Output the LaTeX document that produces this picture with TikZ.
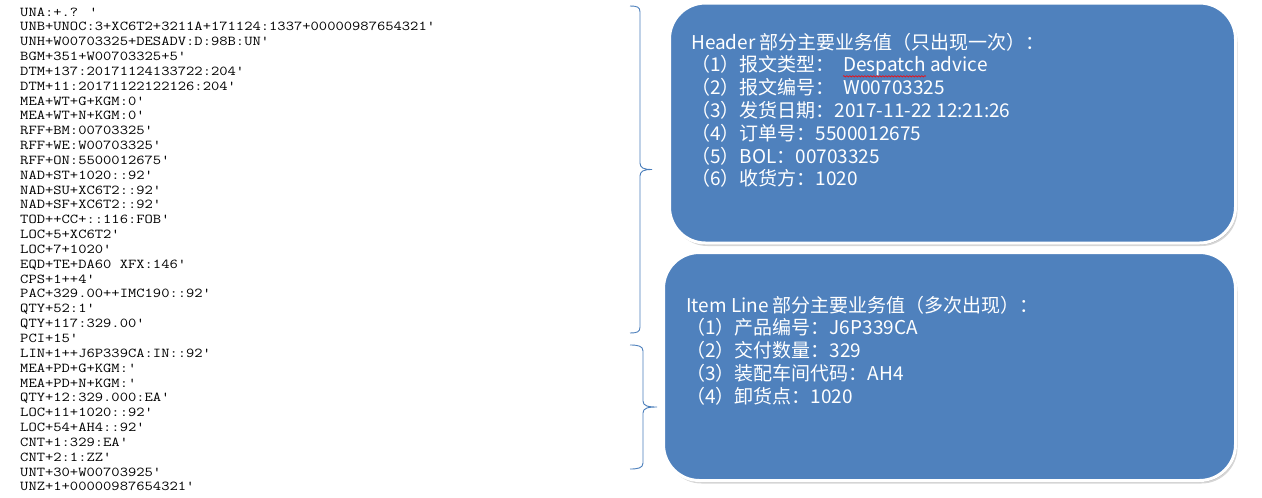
\documentclass[tikz,border=0pt]{standalone}
\usepackage{fontspec}
\usepackage{graphicx}
\newfontfamily\cjkfont{Noto Sans CJK SC}
\usetikzlibrary{calc,shadows,decorations.pathmorphing}
\definecolor{boxblue}{HTML}{4F81BD}
\definecolor{bracecol}{HTML}{4A7EBB}
\newcommand{\codeline}[1]{\scalebox{1.185}[1]{#1}}
\begin{document}
\begin{tikzpicture}[x=1pt,y=-1pt,
  code/.style={font=\ttfamily\fontsize{13.6}{14.84}\selectfont, anchor=base west, inner sep=0pt, text=black},
  txt/.style={font=\cjkfont\fontsize{19}{22.8}\selectfont, text=white, anchor=base west, inner sep=0pt},
  bluebox/.style={draw=white, line width=3pt, fill=boxblue, rounded corners=36pt, anchor=north west, inner sep=0pt, outer sep=0pt,
    drop shadow={shadow xshift=2pt, shadow yshift=-3pt, opacity=0.16, fill=black},
    drop shadow={shadow xshift=1pt, shadow yshift=-1.5pt, opacity=0.2, fill=black}},
  bracel/.style={draw=bracecol, line width=0.9pt},
  wavy/.style={draw=red, line width=0.6pt, decorate, decoration={snake, amplitude=0.7pt, segment length=3pt}}]
\useasboundingbox (0,0) rectangle (1262,498);
\fill[white] (0,0) rectangle (1262,498);

% EDI message text
\foreach \t [count=\i from 0] in {
UNA:+.? ',
UNB+UNOC:3+XC6T2+3211A+171124:1337+00000987654321',
UNH+W00703325+DESADV:D:98B:UN',
BGM+351+W00703325+5',
DTM+137:20171124133722:204',
DTM+11:20171122122126:204',
MEA+WT+G+KGM:0',
MEA+WT+N+KGM:0',
RFF+BM:00703325',
RFF+WE:W00703325',
RFF+ON:5500012675',
NAD+ST+1020::92',
NAD+SU+XC6T2::92',
NAD+SF+XC6T2::92',
TOD++CC+::116:FOB',
LOC+5+XC6T2',
LOC+7+1020',
EQD+TE+DA60 XFX:146',
CPS+1++4',
PAC+329.00++IMC190::92',
QTY+52:1',
QTY+117:329.00',
PCI+15',
LIN+1++J6P339CA:IN::92',
MEA+PD+G+KGM:',
MEA+PD+N+KGM:',
QTY+12:329.000:EA',
LOC+11+1020::92',
LOC+54+AH4::92',
CNT+1:329:EA',
CNT+2:1:ZZ',
UNT+30+W00703925',
UNZ+1+00000987654321'}
  \node[code] (c\i) at (20,{16+14.84*\i}) {\codeline{\t}};

% braces
\draw[bracel] (630,6) .. controls (637,6) and (640,7) .. (640,12)
  -- (640,163) .. controls (640,168) and (644,169.5) .. (652,169.5)
  .. controls (644,169.5) and (640,171) .. (640,176)
  -- (640,327) .. controls (640,332) and (637,333) .. (630,333);
\draw[bracel] (630,345) .. controls (638,345) and (643,346) .. (643,351)
  -- (643,401) .. controls (643,406) and (648,407) .. (657,407)
  .. controls (648,407) and (643,408) .. (643,413)
  -- (643,463) .. controls (643,468) and (638,469) .. (630,469);

% boxes
\node[bluebox, minimum width=566pt, minimum height=240pt] (box1) at (669.5,3) {};
\node[bluebox, minimum width=572pt, minimum height=228pt] (box2) at (663.5,252.5) {};

% header texts
\node[txt] (h0) at (691,49) {Header 部分主要业务值（只出现一次）：};
\node[txt] (h1a) at (691,71.8) {（1）报文类型：};
\node[txt] (h1b) at ($(h1a.base east)+(8,0)$) {Despatch};
\node[txt] (h1c) at (h1b.base east) {\ advice};
\draw[wavy] ($(h1b.base west)+(0,4.5)$) -- ($(h1b.base east)+(0,4.5)$);
\node[txt] (h2) at (691,94.6) {（2）报文编号：\hspace{9pt}W00703325};
\node[txt] (h3) at (691,117.4) {（3）发货日期：2017-11-22 12:21:26};
\node[txt] (h4) at (691,140.2) {（4）订单号：5500012675};
\node[txt] (h5) at (691,163) {（5）BOL：00703325};
\node[txt] (h6) at (691,185.8) {（6）收货方：1020};

% item line texts
\node[txt] (i0) at (686,312) {Item Line 部分主要业务值（多次出现）：};
\node[txt] (i1) at (686,334.8) {（1）产品编号：J6P339CA};
\node[txt] (i2) at (686,357.6) {（2）交付数量：329};
\node[txt] (i3) at (686,380.4) {（3）装配车间代码：AH4};
\node[txt] (i4) at (686,403.2) {（4）卸货点：1020};
\end{tikzpicture}
\end{document}
